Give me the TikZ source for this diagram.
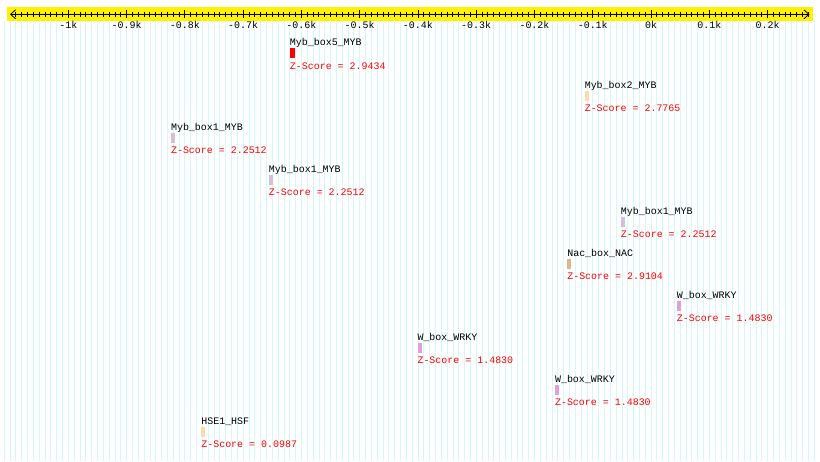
\documentclass[tikz,border=0pt]{standalone}
\usepackage{fontspec}
\newfontfamily\monofont{Liberation Mono}
\usetikzlibrary{arrows.meta}
\definecolor{gridcyan}{HTML}{D4F8FA}
\definecolor{mybpink}{HTML}{D8BFD8}
\definecolor{nactan}{HTML}{DEB887}
\definecolor{wplum}{HTML}{DDA0DD}
\definecolor{hsewheat}{HTML}{F8DDB0}
\definecolor{myb2wheat}{HTML}{F5DEB3}
\tikzset{
    motifname/.style={anchor=base west,inner sep=0pt},
    motifscore/.style={anchor=base west,inner sep=0pt,text=red},
    motifbox/.style={anchor=north west,inner sep=0pt,minimum height=10bp,minimum width=4bp}
}
\begin{document}
\begin{tikzpicture}[x=0.5827bp,y=-1bp,every node/.style={font=\monofont\fontsize{10}{12}\selectfont}]
    \useasboundingbox[fill=white] (-1117.2,0) rectangle (290,461);
    % background grid
    \foreach \g in {-1110,-1100,...,290} {
        \draw[gridcyan,line width=0.7bp] (\g,20.7) -- (\g,461);
    }
    % ruler
    \fill[yellow] (-1105,7) rectangle (278,20.7);
    \draw[{Straight Barb[length=5bp,width=9bp]}-{Straight Barb[length=5bp,width=9bp]},line width=0.8bp] (-1100,14.3) -- (272,14.3);
    \foreach \m in {-1090,-1080,...,270} {
        \draw[line width=0.8bp] (\m,12) -- (\m,16.7);
    }
    \foreach \t/\lb in {-1000/-1k,-900/-0.9k,-800/-0.8k,-700/-0.7k,-600/-0.6k,-500/-0.5k,-400/-0.4k,-300/-0.3k,-200/-0.2k,-100/-0.1k,0/0k,100/0.1k,200/0.2k} {
        \draw[line width=0.8bp] (\t,10) -- (\t,18.3);
        \node[anchor=base,inner sep=0pt] (tick\t) at (\t,28.3) {\lb};
    }
    % motifs
    \foreach \p/\nm/\sc/\col/\w [count=\i from 0] in {
        -620/Myb\_box5\_MYB/2.9434/red/5bp,
        -114/Myb\_box2\_MYB/2.7765/myb2wheat/4bp,
        -824/Myb\_box1\_MYB/2.2512/mybpink/4bp,
        -656/Myb\_box1\_MYB/2.2512/mybpink/4bp,
        -52/Myb\_box1\_MYB/2.2512/mybpink/4bp,
        -144/Nac\_box\_NAC/2.9104/nactan/4bp,
        44/W\_box\_WRKY/1.4830/wplum/4bp,
        -401/W\_box\_WRKY/1.4830/wplum/4bp,
        -165/W\_box\_WRKY/1.4830/wplum/4bp,
        -772/HSE1\_HSF/0.0987/hsewheat/4bp} {
        \pgfmathsetmacro{\rowy}{48.3+42.04*\i}
        \node[motifbox,fill=\col,minimum width=\w] (box\i) at (\p,\rowy) {};
        \node[motifname] (name\i) at (\p,\rowy-2.3) {\nm};
        \node[motifscore] (score\i) at (\p,\rowy+21) {Z-Score = \sc};
    }
\end{tikzpicture}
\end{document}
